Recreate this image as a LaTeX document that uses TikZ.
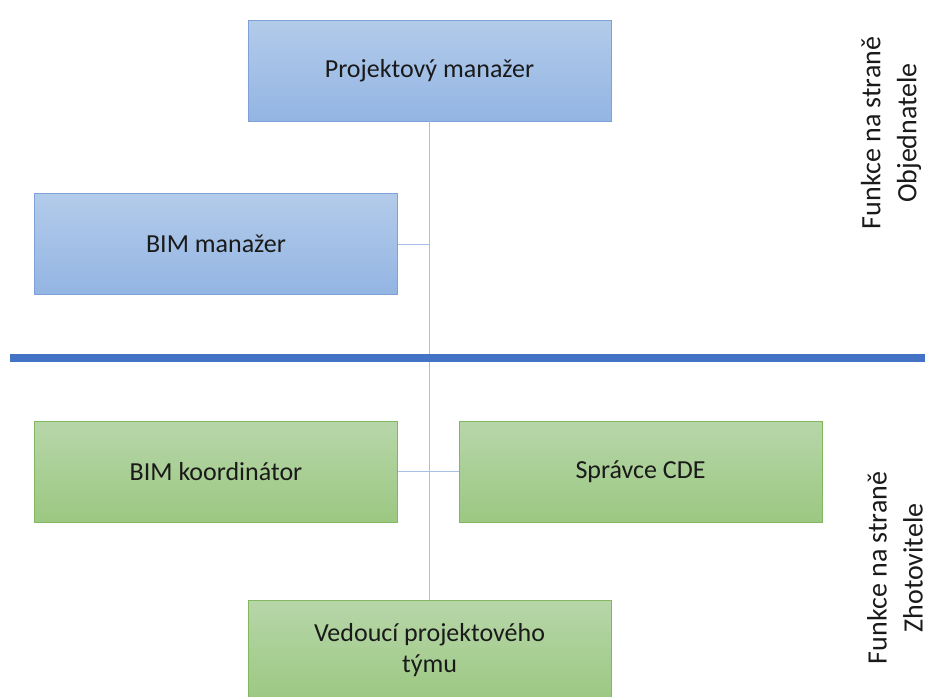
\documentclass[tikz,border=0pt]{standalone}
\usepackage{fontspec}
\setmainfont{Carlito}
\definecolor{bluetop}{HTML}{B3CBEA}
\definecolor{bluebot}{HTML}{93B5E3}
\definecolor{blueedge}{HTML}{7EA2D6}
\definecolor{greentop}{HTML}{B7D6A9}
\definecolor{greenbot}{HTML}{9CC882}
\definecolor{greenedge}{HTML}{82B762}
\definecolor{conn}{HTML}{A8BFE8}
\definecolor{divider}{HTML}{4472C4}
\definecolor{txt}{HTML}{1A1A1A}
\tikzset{
  box/.style={rectangle, minimum width=363pt, minimum height=101pt, inner sep=0pt,
    font=\fontsize{26}{31}\selectfont, text=txt, align=center, line width=0.8pt},
  bluebox/.style={box, draw=blueedge, top color=bluetop, bottom color=bluebot},
  greenbox/.style={box, draw=greenedge, top color=greentop, bottom color=greenbot},
  connector/.style={draw=conn, line width=1pt},
  sidelabel/.style={rotate=90, font=\fontsize{28}{36}\selectfont, text=txt, align=center}
}
\begin{document}
\begin{tikzpicture}[x=1pt,y=-1pt]
\useasboundingbox (0,0) rectangle (931,696);
\clip (0,0) rectangle (931,696);
\fill[white] (0,0) rectangle (931,696);
\node[bluebox] (pm) at (429.5,70.5) {Projektový manažer};
\node[bluebox] (bm) at (216,244) {BIM manažer};
\node[greenbox] (bk) at (216,471.5) {BIM koordinátor};
\node[greenbox] (cde) at (640.5,471.5) {Správce CDE};
\node[greenbox] (vpt) at (429.5,650.5) {Vedoucí projektového\\týmu};
\coordinate (j1) at (pm.south |- bm.east);
\draw[connector] (pm.south) -- (vpt.north);
\draw[connector] (bm.east) -- (j1);
\draw[connector] (bk.east) -- (cde.west);
\coordinate (dl) at (10,358);
\coordinate (dr) at (925,358);
\draw[divider, line width=8pt] (dl) -- (dr);
\node[sidelabel] (obj) at (891,133) {Funkce na straně\\Objednatele};
\node[sidelabel] (zho) at (895,568) {Funkce na straně\\Zhotovitele};
\end{tikzpicture}
\end{document}
